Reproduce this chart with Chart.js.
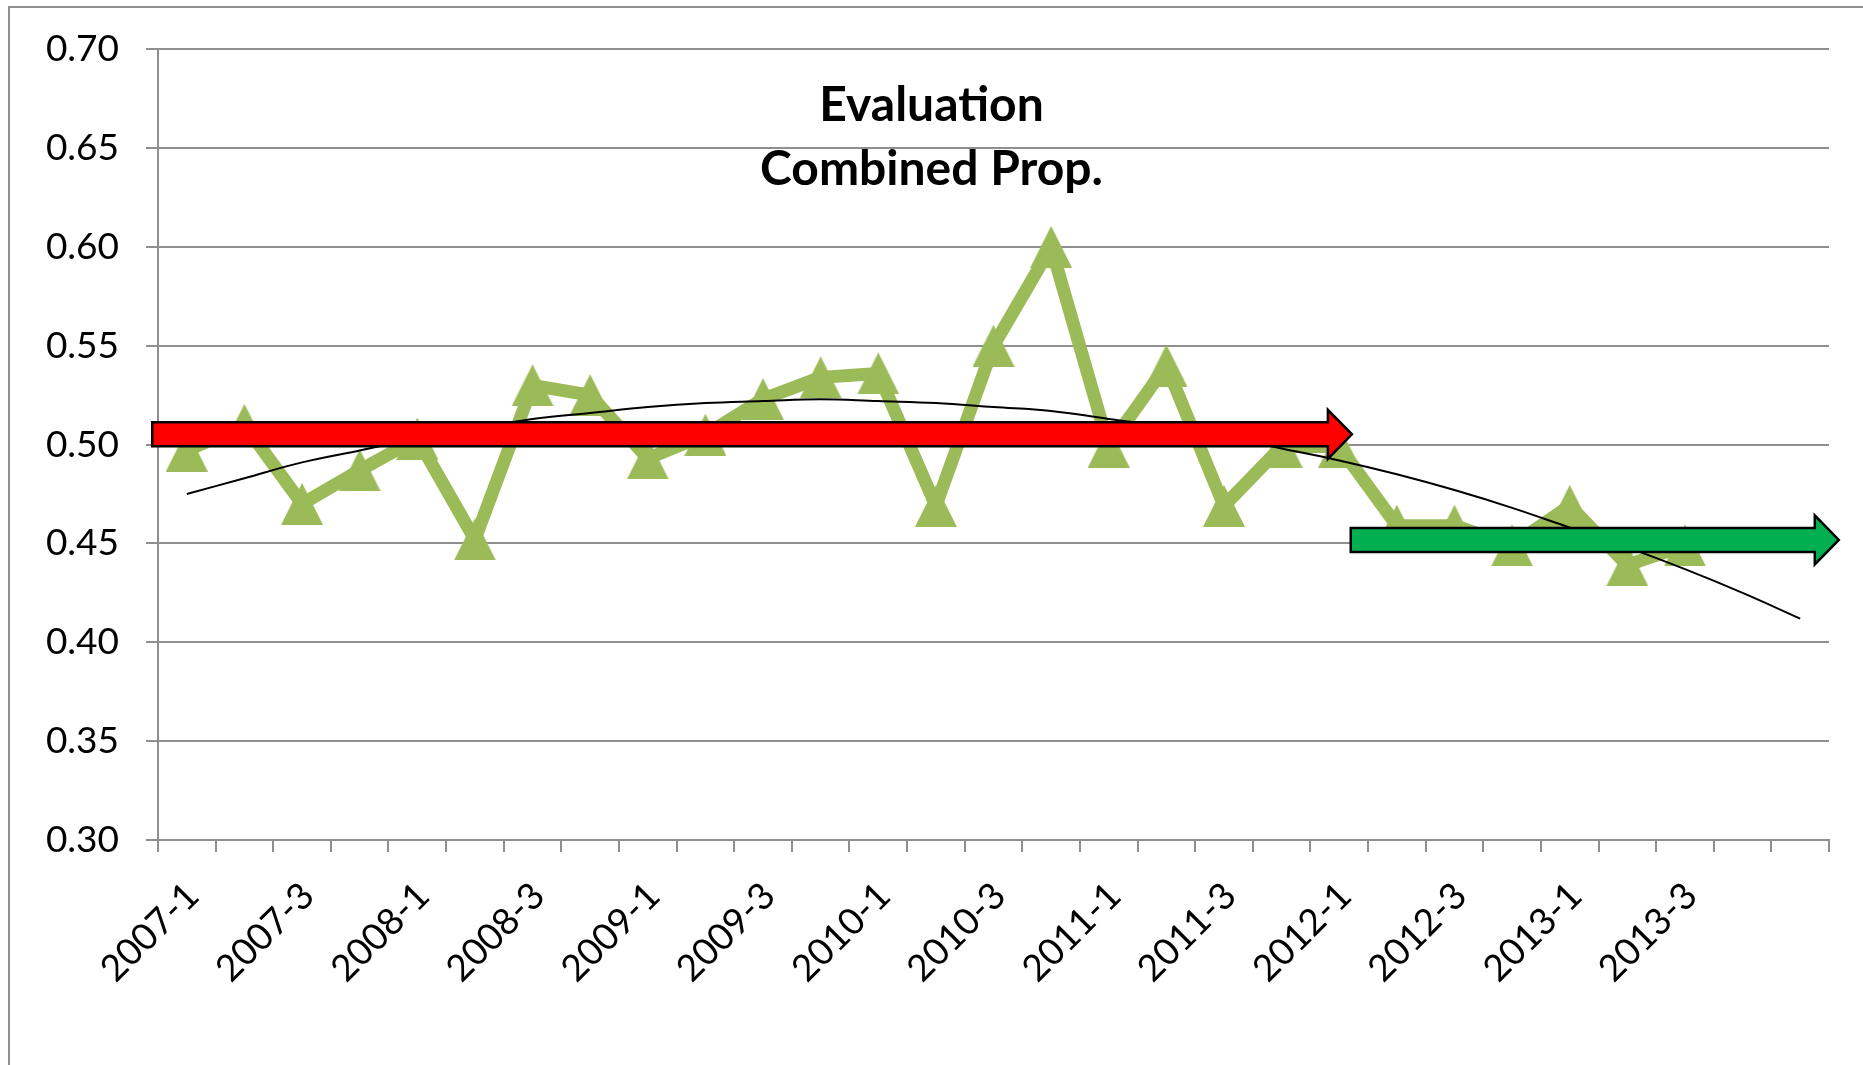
<!DOCTYPE html>
<html>
<head>
<meta charset="utf-8">
<script src="https://cdn.jsdelivr.net/npm/chart.js@4.4.0/dist/chart.umd.min.js"></script>
<style>
    html, body { margin: 0; padding: 0; background: #fff; overflow: hidden; }
    #wrap { position: relative; width: 1863px; height: 1065px; }
</style>
</head>
<body>
<div id="wrap"><canvas id="evalChart" width="1863" height="1065"></canvas></div>
<script>
// quarters, the last two slots are the trendline's forward forecast
const quarters = [
    '2007-1', '2007-2', '2007-3', '2007-4',
    '2008-1', '2008-2', '2008-3', '2008-4',
    '2009-1', '2009-2', '2009-3', '2009-4',
    '2010-1', '2010-2', '2010-3', '2010-4',
    '2011-1', '2011-2', '2011-3', '2011-4',
    '2012-1', '2012-2', '2012-3', '2012-4',
    '2013-1', '2013-2', '2013-3', '', ''
];

const combinedProp = [
    0.497, 0.510, 0.470, 0.487,
    0.503, 0.452, 0.530, 0.525,
    0.493, 0.505, 0.523, 0.534,
    0.536, 0.469, 0.550, 0.600,
    0.499, 0.540, 0.469, 0.499,
    0.499, 0.459, 0.459, 0.449,
    0.469, 0.439, 0.449, null, null
];

// polynomial trendline
const trendProp = [
    0.475, 0.483, 0.491, 0.497,
    0.503, 0.508, 0.513, 0.516,
    0.519, 0.521, 0.522, 0.523,
    0.522, 0.521, 0.519, 0.517,
    0.513, 0.509, 0.504, 0.498,
    0.492, 0.485, 0.477, 0.468,
    0.458, 0.448, 0.437, 0.425, 0.412
];

const titleLines = ['Evaluation', 'Combined Prop.'];

// block arrows, in axis units: category index from/to, value level
const arrowFrom = [-0.6, 20.2];
const arrowTo = [20.22, 28.67];
const arrowLevel = [0.5052, 0.4518];
const arrowFill = ['#FF0000', '#00B050'];

const axisGray = '#8f8f8f';

// Excel style triangle marker
const marker = document.createElement('canvas');
marker.width = 42;
marker.height = 42;
(() => {
    const m = marker.getContext('2d');
    m.fillStyle = '#9BBB59';
    m.beginPath();
    m.moveTo(0, 42);
    m.lineTo(42, 42);
    m.lineTo(21, 0);
    m.closePath();
    m.fill();
})();

const framePlugin = {
    id: 'frame',
    beforeDraw(chart) {
        const ctx = chart.ctx;
        ctx.save();
        ctx.fillStyle = '#fff';
        ctx.fillRect(0, 0, chart.width, chart.height);
        ctx.strokeStyle = axisGray;
        ctx.lineWidth = 2;
        ctx.beginPath();
        ctx.moveTo(9, chart.height);
        ctx.lineTo(9, 7);
        ctx.lineTo(chart.width, 7);
        ctx.stroke();
        ctx.restore();
    }
};

const titlePlugin = {
    id: 'overlayTitle',
    afterDatasetsDraw(chart) {
        const ctx = chart.ctx;
        ctx.save();
        ctx.font = 'bold 48px Lato';
        ctx.fillStyle = '#000';
        ctx.textAlign = 'center';
        ctx.textBaseline = 'alphabetic';
        titleLines.forEach((t, i) => ctx.fillText(t, chart.width / 2, 121 + i * 64));
        ctx.restore();
    }
};

const arrowPlugin = {
    id: 'blockArrows',
    afterDatasetsDraw(chart) {
        const ctx = chart.ctx;
        const xs = chart.scales.x;
        const ys = chart.scales.y;
        const body = 24, head = 49, headLen = 24;
        ctx.save();
        arrowFrom.forEach((from, i) => {
            const x0 = xs.getPixelForValue(from);
            const x1 = xs.getPixelForValue(arrowTo[i]);
            const yc = ys.getPixelForValue(arrowLevel[i]);
            ctx.beginPath();
            ctx.moveTo(x0, yc - body / 2);
            ctx.lineTo(x1 - headLen, yc - body / 2);
            ctx.lineTo(x1 - headLen, yc - head / 2);
            ctx.lineTo(x1, yc);
            ctx.lineTo(x1 - headLen, yc + head / 2);
            ctx.lineTo(x1 - headLen, yc + body / 2);
            ctx.lineTo(x0, yc + body / 2);
            ctx.closePath();
            ctx.fillStyle = arrowFill[i];
            ctx.fill();
            ctx.strokeStyle = '#000';
            ctx.lineWidth = 2.5;
            ctx.stroke();
        });
        ctx.restore();
    }
};

Chart.defaults.font.family = 'Lato, "Open Sans", sans-serif';
Chart.defaults.color = '#000';

new Chart(document.getElementById('evalChart'), {
    type: 'line',
    data: {
        labels: quarters,
        datasets: [{
            label: 'Trend',
            data: trendProp,
            borderColor: '#000',
            borderWidth: 2,
            pointRadius: 0,
            tension: 0.4,
            fill: false,
            order: 0
        }, {
            label: 'Combined Prop.',
            data: combinedProp,
            borderColor: '#9BBB59',
            borderWidth: 13,
            borderJoinStyle: 'round',
            pointStyle: marker,
            pointRadius: 21,
            tension: 0,
            fill: false,
            order: 1
        }]
    },
    options: {
        responsive: false,
        animation: false,
        devicePixelRatio: 1,
        layout: { padding: { left: 8, top: 47, right: 32, bottom: 0 } },
        plugins: {
            legend: { display: false },
            tooltip: { enabled: false }
        },
        scales: {
            x: {
                offset: true,
                afterFit: (scale) => { scale.height = 225; },
                grid: {
                    offset: true,
                    drawOnChartArea: false,
                    drawTicks: true,
                    tickLength: 12,
                    color: axisGray,
                    lineWidth: 2
                },
                border: { color: axisGray, width: 2 },
                ticks: {
                    autoSkip: false,
                    maxRotation: 45,
                    minRotation: 45,
                    padding: 22,
                    labelOffset: 6,
                    font: { size: 37 },
                    callback: (v, i) => (i % 2 === 0 ? quarters[i] : '')
                }
            },
            y: {
                min: 0.30,
                max: 0.70,
                afterFit: (scale) => { scale.width = 150; },
                grid: {
                    color: axisGray,
                    lineWidth: 2,
                    tickLength: 12
                },
                border: { color: axisGray, width: 2 },
                ticks: {
                    stepSize: 0.05,
                    padding: 27,
                    font: { size: 37 },
                    callback: (v) => v.toFixed(2)
                }
            }
        }
    },
    plugins: [framePlugin, titlePlugin, arrowPlugin]
});
</script>
</body>
</html>
